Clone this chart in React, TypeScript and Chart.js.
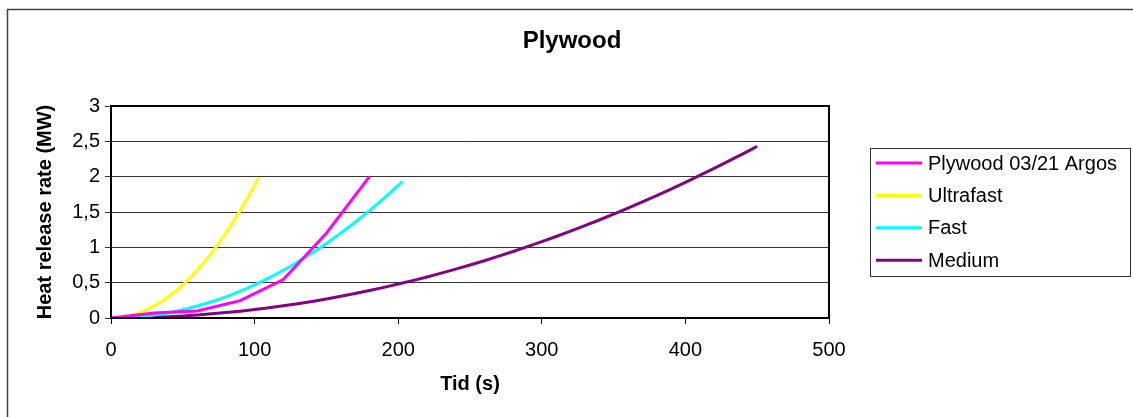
import React, { useEffect, useRef } from "react";
import { Chart, registerables } from "chart.js";

Chart.register(...registerables);

const titleText = "Plywood";
const xAxisTitle = "Tid (s)";
const yAxisTitle = "Heat release rate (MW)";

const seriesNames = ["Plywood 03/21 Argos", "Ultrafast", "Fast", "Medium"];
const seriesColors = ["#FF00FF", "#FFFF00", "#00FFFF", "#800080"];
const seriesSmooth = [false, true, true, true];

const plywoodTime = [0, 30, 60, 90, 120, 150, 180];
const plywoodHRR = [0, 0.07, 0.1, 0.245, 0.545, 1.2, 2.0];

const ultrafastTime = [0, 10, 20, 30, 40, 50, 60, 70, 80, 90, 100, 103];
const ultrafastHRR = [0, 0.019, 0.075, 0.169, 0.3, 0.469, 0.675, 0.919, 1.201, 1.52, 1.876, 1.99];

const fastTime = [0, 10, 20, 30, 40, 50, 60, 70, 80, 90, 100, 110, 120, 130, 140, 150, 160, 170, 180, 190, 200, 203];
const fastHRR = [0, 0.005, 0.019, 0.042, 0.075, 0.117, 0.169, 0.23, 0.3, 0.38, 0.469, 0.567, 0.675, 0.793, 0.919, 1.055, 1.201, 1.355, 1.52, 1.693, 1.876, 1.933];

const mediumTime = [0, 10, 20, 30, 40, 50, 60, 70, 80, 90, 100, 110, 120, 130, 140, 150, 160, 170, 180, 190, 200, 210, 220, 230, 240, 250, 260, 270, 280, 290, 300, 310, 320, 330, 340, 350, 360, 370, 380, 390, 400, 410, 420, 430, 440, 450];
const mediumHRR = [0, 0.001, 0.005, 0.011, 0.019, 0.03, 0.043, 0.059, 0.077, 0.097, 0.12, 0.145, 0.173, 0.203, 0.235, 0.27, 0.307, 0.347, 0.389, 0.433, 0.48, 0.529, 0.581, 0.635, 0.691, 0.75, 0.811, 0.875, 0.941, 1.009, 1.08, 1.153, 1.229, 1.307, 1.387, 1.47, 1.555, 1.643, 1.733, 1.825, 1.92, 2.017, 2.117, 2.219, 2.323, 2.43];

const xTicksMin = 0;
const xTicksMax = 500;
const xStep = 100;
const yTicksMin = 0;
const yTicksMax = 3;
const yStep = 0.5;

const FONT = "'Liberation Sans', Arial, sans-serif";

function pts(xs: number[], ys: number[]) {
  return xs.map((x, i) => ({ x, y: ys[i] }));
}

const decorPlugin = {
  id: "decor",
  beforeDraw(chart: any) {
    const ctx = chart.ctx;
    ctx.save();
    ctx.fillStyle = "#fff";
    ctx.fillRect(0, 0, chart.width, chart.height);
    ctx.strokeStyle = "#404040";
    ctx.lineWidth = 1.5;
    ctx.strokeRect(7.5, 9.5, 1300, 600);
    ctx.restore();
  },
  afterDraw(chart: any) {
    const ctx = chart.ctx;
    const area = chart.chartArea;
    ctx.save();
    ctx.strokeStyle = "#000";
    ctx.lineWidth = 2;
    ctx.strokeRect(area.left, area.top, area.right - area.left, area.bottom - area.top);
    ctx.fillStyle = "#000";
    ctx.textAlign = "center";
    ctx.textBaseline = "middle";
    ctx.font = `bold 24px ${FONT}`;
    ctx.fillText(titleText, 572, 41);
    ctx.font = `bold 20px ${FONT}`;
    ctx.fillText(xAxisTitle, (area.left + area.right) / 2, 384);
    ctx.save();
    ctx.translate(45, (area.top + area.bottom) / 2);
    ctx.rotate(-Math.PI / 2);
    ctx.fillText(yAxisTitle, 0, 0);
    ctx.restore();
    const lx = 870, ly = 148, lw = 260, lh = 128;
    ctx.strokeStyle = "#333";
    ctx.lineWidth = 1;
    ctx.strokeRect(lx + 0.5, ly + 0.5, lw, lh);
    ctx.font = `20px ${FONT}`;
    ctx.textAlign = "left";
    chart.data.datasets.forEach((ds: any, i: number) => {
      const y = 163 + i * 32.4;
      ctx.strokeStyle = ds.borderColor;
      ctx.lineWidth = 3;
      ctx.beginPath();
      ctx.moveTo(876, y);
      ctx.lineTo(922, y);
      ctx.stroke();
      ctx.fillStyle = "#000";
      ctx.fillText(ds.label, 928, y + 1);
    });
    ctx.restore();
  },
};

export default function App() {
  const ref = useRef<HTMLCanvasElement | null>(null);
  useEffect(() => {
    if (!ref.current) return;
    const seriesData = [
      pts(plywoodTime, plywoodHRR),
      pts(ultrafastTime, ultrafastHRR),
      pts(fastTime, fastHRR),
      pts(mediumTime, mediumHRR),
    ];
    const chart = new Chart(ref.current, {
      type: "scatter",
      data: {
        datasets: seriesNames.map((name, i) => ({
          label: name,
          data: seriesData[i],
          showLine: true,
          borderColor: seriesColors[i],
          backgroundColor: seriesColors[i],
          borderWidth: 3,
          pointRadius: 0,
          pointHoverRadius: 0,
          tension: 0,
          cubicInterpolationMode: seriesSmooth[i] ? "monotone" : "default",
        })),
      },
      options: {
        animation: false,
        responsive: false,
        maintainAspectRatio: false,
        layout: { padding: { left: 0, top: 106, right: 304, bottom: 0 } },
        plugins: {
          legend: { display: false },
          title: { display: false },
          tooltip: { enabled: false },
        },
        scales: {
          x: {
            type: "linear",
            min: xTicksMin,
            max: xTicksMax,
            afterFit(scale: any) {
              scale.height = 99;
            },
            ticks: {
              stepSize: xStep,
              color: "#000",
              font: { family: FONT, size: 20 },
              padding: 14,
              maxRotation: 0,
            },
            grid: {
              drawOnChartArea: false,
              drawTicks: true,
              tickLength: 6,
              color: "#000",
              lineWidth: 1,
            },
            border: { display: true, color: "#000", width: 2 },
          },
          y: {
            type: "linear",
            min: yTicksMin,
            max: yTicksMax,
            afterFit(scale: any) {
              scale.width = 111;
            },
            ticks: {
              stepSize: yStep,
              color: "#000",
              font: { family: FONT, size: 20 },
              padding: 5,
              callback: (v: any) => String(v).replace(".", ","),
            },
            grid: {
              drawTicks: true,
              tickLength: 6,
              color: "#333",
              lineWidth: 1,
            },
            border: { display: true, color: "#000", width: 2 },
          },
        },
      },
      plugins: [decorPlugin],
    });
    return () => chart.destroy();
  }, []);
  return (
    <div style={{ position: "absolute", left: 0, top: 0, width: 1133, height: 417 }}>
      <canvas ref={ref} width={1133} height={417} style={{ width: 1133, height: 417, display: "block" }} />
    </div>
  );
}
